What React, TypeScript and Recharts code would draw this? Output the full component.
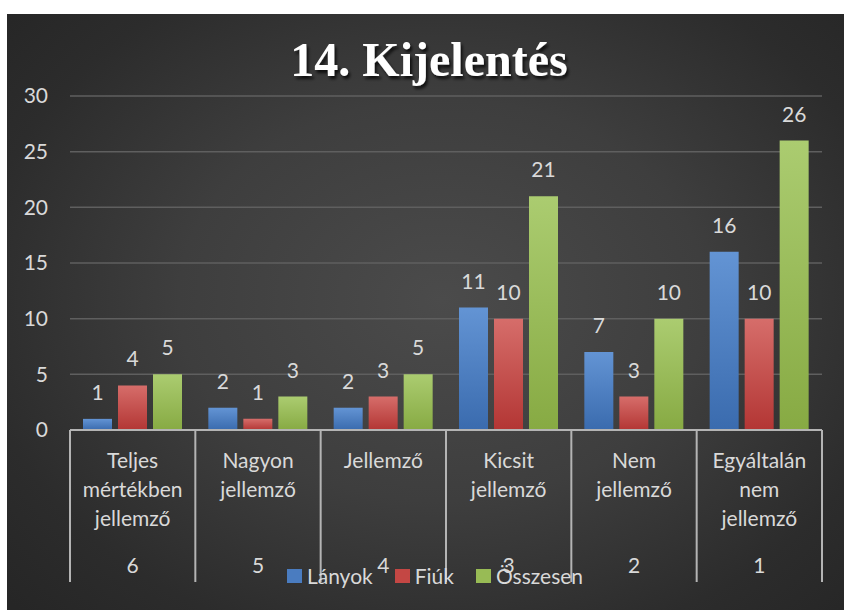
import React from "react";
import { BarChart, Bar, XAxis, YAxis, CartesianGrid, LabelList, Legend } from "recharts";

// ─── Data ────────────────────────────────────────────────────────────────────

const categories = [
  "Teljes\nmértékben\njellemző",
  "Nagyon\njellemző",
  "Jellemző",
  "Kicsit\njellemző",
  "Nem\njellemző",
  "Egyáltalán\nnem\njellemző",
];
const codes = ["6", "5", "4", "3", "2", "1"];
const lanyok = [1, 2, 2, 11, 7, 16];
const fiuk = [4, 1, 3, 10, 3, 10];
const osszesen = [5, 3, 5, 21, 10, 26];
const yTicks = [0, 5, 10, 15, 20, 25, 30];

const data = categories.map((name, i) => ({
  name,
  code: codes[i],
  lanyok: lanyok[i],
  fiuk: fiuk[i],
  osszesen: osszesen[i],
}));

// ─── Layout ──────────────────────────────────────────────────────────────────

const W = 844;
const H = 610;
const margin = { top: 96, right: 22, left: 10, bottom: 30 };
const yAxisWidth = 60;
const xAxisHeight = 150;
const plotLeft = margin.left + yAxisWidth;
const plotRight = W - margin.right;
const axisY = H - margin.bottom - xAxisHeight;
const band = (plotRight - plotLeft) / categories.length;

const font = "Lato, 'Open Sans', sans-serif";
const textColor = "#d9d9d9";
const sepColor = "#b4b4b4";

const series = [
  { key: "lanyok", name: "Lányok", top: "#6394d4", bottom: "#3a6bae", swatch: "#4a7cc0" },
  { key: "fiuk", name: "Fiúk", top: "#d66d6a", bottom: "#b33634", swatch: "#c44744" },
  { key: "osszesen", name: "Összesen", top: "#abcc70", bottom: "#87aa43", swatch: "#98bb55" },
];

// ─── Custom pieces ───────────────────────────────────────────────────────────

function CategoryTick(props: any) {
  const { x, payload, index } = props;
  const lines = String(payload.value).split("\n");
  const left = x - band / 2;
  const right = x + band / 2;
  return (
    <g>
      <line x1={left} y1={axisY} x2={left} y2={582} stroke={sepColor} strokeWidth={2} />
      {index === categories.length - 1 && (
        <line x1={right} y1={axisY} x2={right} y2={582} stroke={sepColor} strokeWidth={2} />
      )}
      {lines.map((l, i) => (
        <text
          key={i}
          x={x}
          y={468 + i * 29}
          textAnchor="middle"
          fill={textColor}
          style={{ fontSize: 21, fontFamily: font }}
        >
          {l}
        </text>
      ))}
      <text
        x={x}
        y={573}
        textAnchor="middle"
        fill={textColor}
        style={{ fontSize: 21, fontFamily: font }}
      >
        {codes[index]}
      </text>
    </g>
  );
}

function ValueLabel(props: any) {
  const { x, y, width, value } = props;
  return (
    <text
      x={x + width / 2}
      y={y - 19}
      textAnchor="middle"
      fill={textColor}
      style={{ fontSize: 21, fontFamily: font }}
    >
      {value}
    </text>
  );
}

function LegendContent() {
  return (
    <div
      style={{
        display: "flex",
        justifyContent: "center",
        paddingLeft: 26,
        fontFamily: font,
        fontSize: 21,
        color: textColor,
      }}
    >
      {series.map((s) => (
        <div key={s.key} style={{ display: "flex", alignItems: "center", margin: "0 11px" }}>
          <span style={{ display: "inline-block", width: 15, height: 14, background: s.swatch, marginRight: 5 }} />
          <span>{s.name}</span>
        </div>
      ))}
    </div>
  );
}

// ─── App ─────────────────────────────────────────────────────────────────────

export default function App() {
  return (
    <div style={{ position: "absolute", left: 0, top: 0, width: W, height: H, background: "#fff" }}>
      <div
        style={{
          position: "absolute",
          left: 7,
          top: 14,
          width: W - 7,
          height: H - 14,
          background:
            "radial-gradient(ellipse 70% 75% at 52% 48%, #4b4b4b 0%, #3e3e3e 45%, #2c2c2c 80%, #262626 100%)",
        }}
      />
      <div style={{ position: "absolute", left: 0, top: 0 }}>
        <BarChart width={W} height={H} data={data} margin={margin} barGap={6} barSize={29}>
          <defs>
            {series.map((s) => (
              <linearGradient key={s.key} id={`grad-${s.key}`} x1="0" y1="0" x2="0" y2="1">
                <stop offset="0%" stopColor={s.top} />
                <stop offset="100%" stopColor={s.bottom} />
              </linearGradient>
            ))}
            <filter id="titleShadow" x="-10%" y="-30%" width="120%" height="160%">
              <feDropShadow dx="2" dy="3" stdDeviation="1.5" floodColor="#000" floodOpacity="0.75" />
            </filter>
          </defs>
          <text
            x={429}
            y={76}
            textAnchor="middle"
            fill="#ffffff"
            filter="url(#titleShadow)"
            style={{ fontSize: 48, fontWeight: 700, fontFamily: "'Liberation Serif', 'Times New Roman', serif" }}
          >
            14. Kijelentés
          </text>
          <CartesianGrid vertical={false} stroke="#5f5f5f" strokeWidth={1.5} />
          <XAxis
            dataKey="name"
            height={xAxisHeight}
            interval={0}
            tickLine={false}
            axisLine={{ stroke: sepColor, strokeWidth: 2 }}
            tick={<CategoryTick />}
          />
          <YAxis
            width={yAxisWidth}
            domain={[0, 30]}
            ticks={yTicks}
            axisLine={false}
            tickLine={false}
            tickSize={6}
            tickMargin={16}
            tick={{ fill: textColor, fontSize: 21, fontFamily: font }}
          />
          <Legend
            verticalAlign="middle"
            align="center"
            layout="horizontal"
            wrapperStyle={{ top: 563, left: 0, width: W }}
            content={<LegendContent />}
          />
          {series.map((s) => (
            <Bar
              key={s.key}
              dataKey={s.key}
              name={s.name}
              fill={`url(#grad-${s.key})`}
              isAnimationActive={false}
            >
              <LabelList dataKey={s.key} content={<ValueLabel />} />
            </Bar>
          ))}
        </BarChart>
      </div>
    </div>
  );
}
